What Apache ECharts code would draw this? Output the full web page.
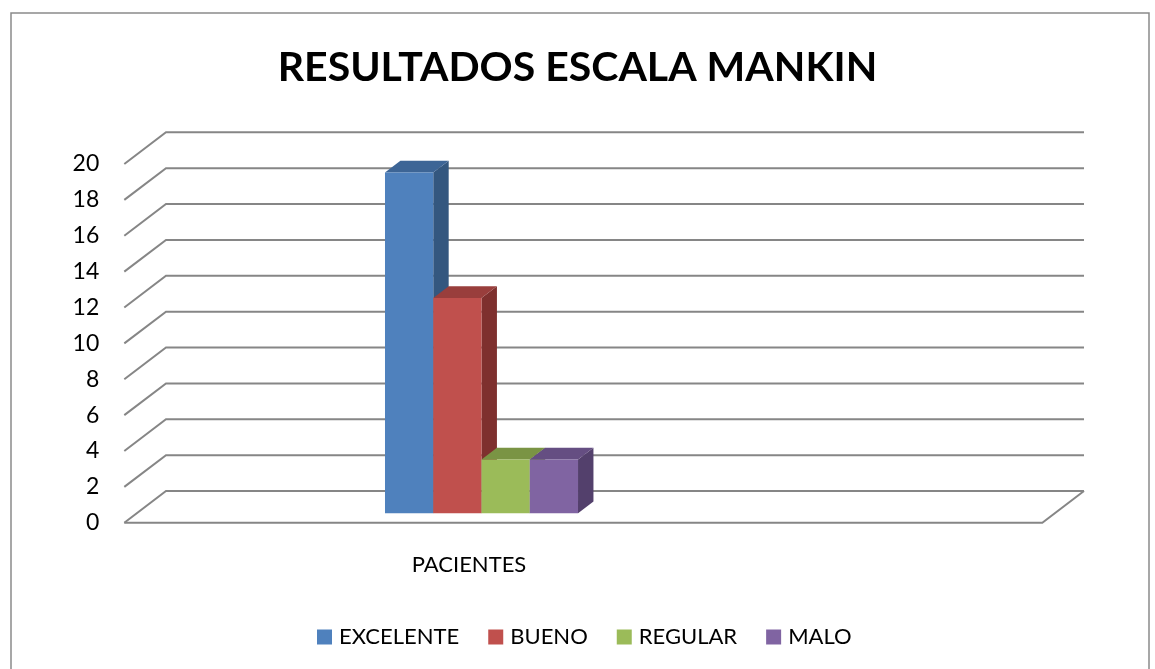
<!DOCTYPE html>
<html>
<head>
<meta charset="utf-8">
<title>Resultados Escala Mankin</title>
<script src="https://cdn.jsdelivr.net/npm/echarts@6/dist/echarts.min.js"></script>
<style>
  html, body { margin: 0; padding: 0; background: #fff; }
  #chart { width: 1155px; height: 669px; }
</style>
</head>
<body>
<div id="chart"></div>
<script>
// datos del grafico
var categories = ['PACIENTES'];
var seriesNames = ['EXCELENTE', 'BUENO', 'REGULAR', 'MALO'];
var excelente = [19];
var bueno = [12];
var regular = [3];
var malo = [3];
var yTicks = [0, 2, 4, 6, 8, 10, 12, 14, 16, 18, 20];

var seriesData = [excelente, bueno, regular, malo];
// colores: frente, techo, lado
var colors = [
  ['#4F81BD', '#3D6596', '#34577F'],
  ['#C0504D', '#993E3C', '#7E302E'],
  ['#9BBB59', '#7A9444', '#6A8238'],
  ['#8064A2', '#654E82', '#53406C']
];

// efecto 3D (pixeles)
var depthX = 41.7, depthY = -31.7;
var barDepthStart = 0.3, barDepthLen = 0.37;
var groupFrac = 0.28;
var fontFam = 'Lato';

var chart = echarts.init(document.getElementById('chart'), null, { renderer: 'canvas' });

function renderGridLines(params, api) {
  var v = api.value(1);
  var p = api.coord([0, v]);
  var q = api.coord([1, v]);
  var st = { stroke: '#868686', lineWidth: 2, fill: null };
  var children = [{
    type: 'polyline',
    shape: { points: [p, [p[0] + depthX, p[1] + depthY], [q[0] + depthX, q[1] + depthY]] },
    style: st
  }];
  if (v === yTicks[0]) {
    children.push({
      type: 'polyline',
      shape: { points: [p, q, [q[0] + depthX, q[1] + depthY]] },
      style: st
    });
  }
  return { type: 'group', children: children };
}

function renderBar(si) {
  return function (params, api) {
    var top = api.coord([api.value(0), api.value(1)]);
    var base = api.coord([api.value(0), 0]);
    var band = api.size([1, 0])[0];
    var w = band * groupFrac / seriesNames.length;
    var x0 = top[0] - band * groupFrac / 2 + si * w + depthX * barDepthStart;
    var x1 = x0 + w;
    var yT = top[1] + depthY * barDepthStart;
    var yB = base[1] + depthY * barDepthStart;
    var dx = depthX * barDepthLen, dy = depthY * barDepthLen;
    var c = colors[si];
    return {
      type: 'group',
      children: [
        { type: 'polygon', shape: { points: [[x1, yT], [x1 + dx, yT + dy], [x1 + dx, yB + dy], [x1, yB]] }, style: { fill: c[2] } },
        { type: 'polygon', shape: { points: [[x0, yT], [x1, yT], [x1 + dx, yT + dy], [x0 + dx, yT + dy]] }, style: { fill: c[1] } },
        { type: 'rect', shape: { x: x0, y: yT, width: w, height: yB - yT }, style: { fill: c[0] } }
      ]
    };
  };
}

var series = [{
  type: 'custom',
  name: 'grid',
  xAxisIndex: 0,
  yAxisIndex: 0,
  silent: true,
  z: 1,
  renderItem: renderGridLines,
  data: yTicks.map(function (v) { return [0, v]; })
}];
seriesNames.forEach(function (name, si) {
  series.push({
    type: 'custom',
    name: name,
    xAxisIndex: 1,
    yAxisIndex: 1,
    z: 2 + si,
    itemStyle: { color: colors[si][0] },
    renderItem: renderBar(si),
    data: categories.map(function (c, i) { return [i, seriesData[si][i]]; })
  });
});

var option = {
  animation: false,
  backgroundColor: '#fff',
  graphic: [{
    type: 'rect',
    shape: { x: 11, y: 13, width: 1138, height: 680 },
    style: { fill: null, stroke: '#8A8A8A', lineWidth: 1.5 },
    silent: true
  }],
  title: {
    text: 'RESULTADOS ESCALA MANKIN',
    left: 'center',
    top: 42,
    textStyle: { fontFamily: fontFam, fontWeight: 'bold', fontSize: 41, color: '#000' }
  },
  legend: {
    data: seriesNames,
    left: 312,
    top: 621,
    itemWidth: 15,
    itemHeight: 15,
    itemGap: 29,
    icon: 'rect',
    textStyle: { fontFamily: fontFam, fontSize: 22, color: '#000', padding: [0, 0, 0, 2] }
  },
  grid: [
    { left: 124.3, right: 112.7, top: 164, bottom: 146.3 },
    { left: 124.3, width: 689.4, top: 164, bottom: 146.3 }
  ],
  xAxis: [
    { type: 'value', gridIndex: 0, min: 0, max: 1, show: false },
    {
      type: 'category', gridIndex: 1, data: categories,
      axisLine: { show: false }, axisTick: { show: false },
      axisLabel: { margin: 31, fontFamily: fontFam, fontSize: 22, color: '#000' }
    }
  ],
  yAxis: [
    {
      type: 'value', gridIndex: 0,
      min: yTicks[0], max: yTicks[yTicks.length - 1], interval: 2,
      axisLine: { show: false }, axisTick: { show: false }, splitLine: { show: false },
      axisLabel: { margin: 25, fontFamily: fontFam, fontSize: 23, color: '#000', padding: [3, 0, 0, 0] }
    },
    {
      type: 'value', gridIndex: 1,
      min: yTicks[0], max: yTicks[yTicks.length - 1], interval: 2,
      show: false
    }
  ],
  series: series
};

chart.setOption(option);
</script>
</body>
</html>
